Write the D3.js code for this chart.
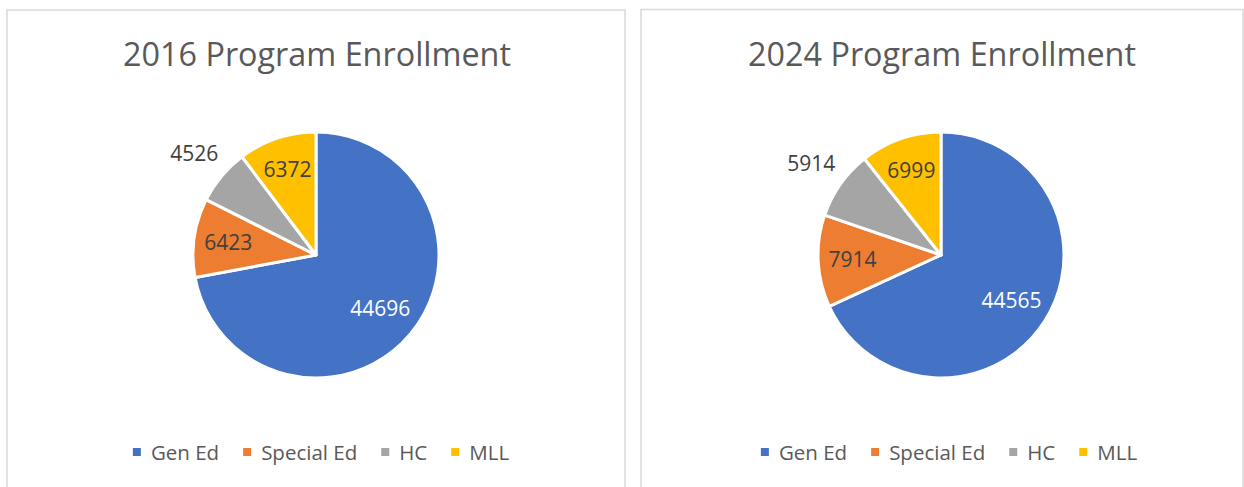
<!DOCTYPE html>
<html>
<head>
<meta charset="utf-8">
<script src="https://cdn.jsdelivr.net/npm/d3@7"></script>
<style>
  html, body { margin: 0; padding: 0; background: #ffffff; }
  svg { display: block; }
</style>
</head>
<body>
<svg id="chart" width="1244" height="487"></svg>
<script>
// ---- Data ----
const categories = ["Gen Ed", "Special Ed", "HC", "MLL"];
const values2016 = [44696, 6423, 4526, 6372];
const values2024 = [44565, 7914, 5914, 6999];
const chartTitles = ["2016 Program Enrollment", "2024 Program Enrollment"];

// ---- Styles ----
const colors = ["#4472C4", "#ED7D31", "#A5A5A5", "#FFC000"];
const labelColors = ["#ffffff", "#404040", "#404040", "#404040"];
const labelRadiusFactor = [0.68, 0.72, 1.29, 0.73];
const FONT = "'Open Sans', 'Noto Sans', 'DejaVu Sans', sans-serif";

const svg = d3.select("#chart");
const color = d3.scaleOrdinal(categories, colors);

const panels = [
  { x: 7, y: 10, w: 618, cx: 316, cy: 255, values: values2016, title: chartTitles[0], legendShift: 5 },
  { x: 641, y: 9.5, w: 602, cx: 941, cy: 255, values: values2024, title: chartTitles[1], legendShift: 8 }
];
const R = 123;

function fitSize(textSel, target, base) {
  const w = textSel.node().getComputedTextLength();
  const s = base * target / w;
  textSel.attr("font-size", s);
  return s;
}

panels.forEach(p => {
  const g = svg.append("g");

  // panel border
  g.append("rect")
    .attr("x", p.x).attr("y", p.y)
    .attr("width", p.w).attr("height", 520)
    .attr("fill", "#ffffff")
    .attr("stroke", "#d9d9d9").attr("stroke-width", 1.5);

  // title
  const t = g.append("text")
    .attr("x", p.cx + 1).attr("y", 66)
    .attr("text-anchor", "middle")
    .attr("font-family", FONT)
    .attr("font-size", 32)
    .attr("fill", "#595959")
    .text(p.title);
  fitSize(t, 388, 32);

  // pie
  const data = categories.map((c, i) => ({ cat: c, value: p.values[i], idx: i }));
  const pie = d3.pie().sort(null).value(d => d.value).startAngle(0).endAngle(2 * Math.PI);
  const arcs = pie(data);
  const arc = d3.arc().innerRadius(0).outerRadius(R);

  const pg = g.append("g").attr("transform", `translate(${p.cx},${p.cy})`);
  pg.selectAll("path.slice")
    .data(arcs)
    .join("path")
    .attr("class", "slice")
    .attr("d", arc)
    .attr("fill", d => color(d.data.cat))
    .attr("stroke", "#ffffff")
    .attr("stroke-width", 3)
    .attr("stroke-linejoin", "round");

  pg.selectAll("text.lbl")
    .data(arcs)
    .join("text")
    .attr("class", "lbl")
    .attr("transform", d => {
      const f = labelRadiusFactor[d.data.idx] * R;
      const c = d3.arc().innerRadius(f).outerRadius(f).centroid(d);
      return `translate(${c[0]},${c[1]})`;
    })
    .attr("text-anchor", "middle")
    .attr("dy", "0.36em")
    .attr("font-family", FONT)
    .attr("font-size", 21)
    .attr("fill", d => labelColors[d.data.idx])
    .text(d => d3.format("d")(d.data.value));

  // legend
  const lg = g.append("g");
  const items = [];
  let xCur = 0;
  const legendSize = 20.5;
  categories.forEach((c, i) => {
    const it = lg.append("g");
    it.append("rect")
      .attr("x", xCur).attr("y", 448)
      .attr("width", 8).attr("height", 8)
      .attr("fill", color(c));
    const tx = it.append("text")
      .attr("x", xCur + 18).attr("y", 459.5)
      .attr("font-family", FONT)
      .attr("font-size", legendSize)
      .attr("fill", "#595959")
      .text(c);
    const w = tx.node().getComputedTextLength();
    xCur += 18 + w + 24;
  });
  const total = xCur - 24;
  lg.attr("transform", `translate(${p.cx + p.legendShift - total / 2},0)`);
});
</script>
</body>
</html>
